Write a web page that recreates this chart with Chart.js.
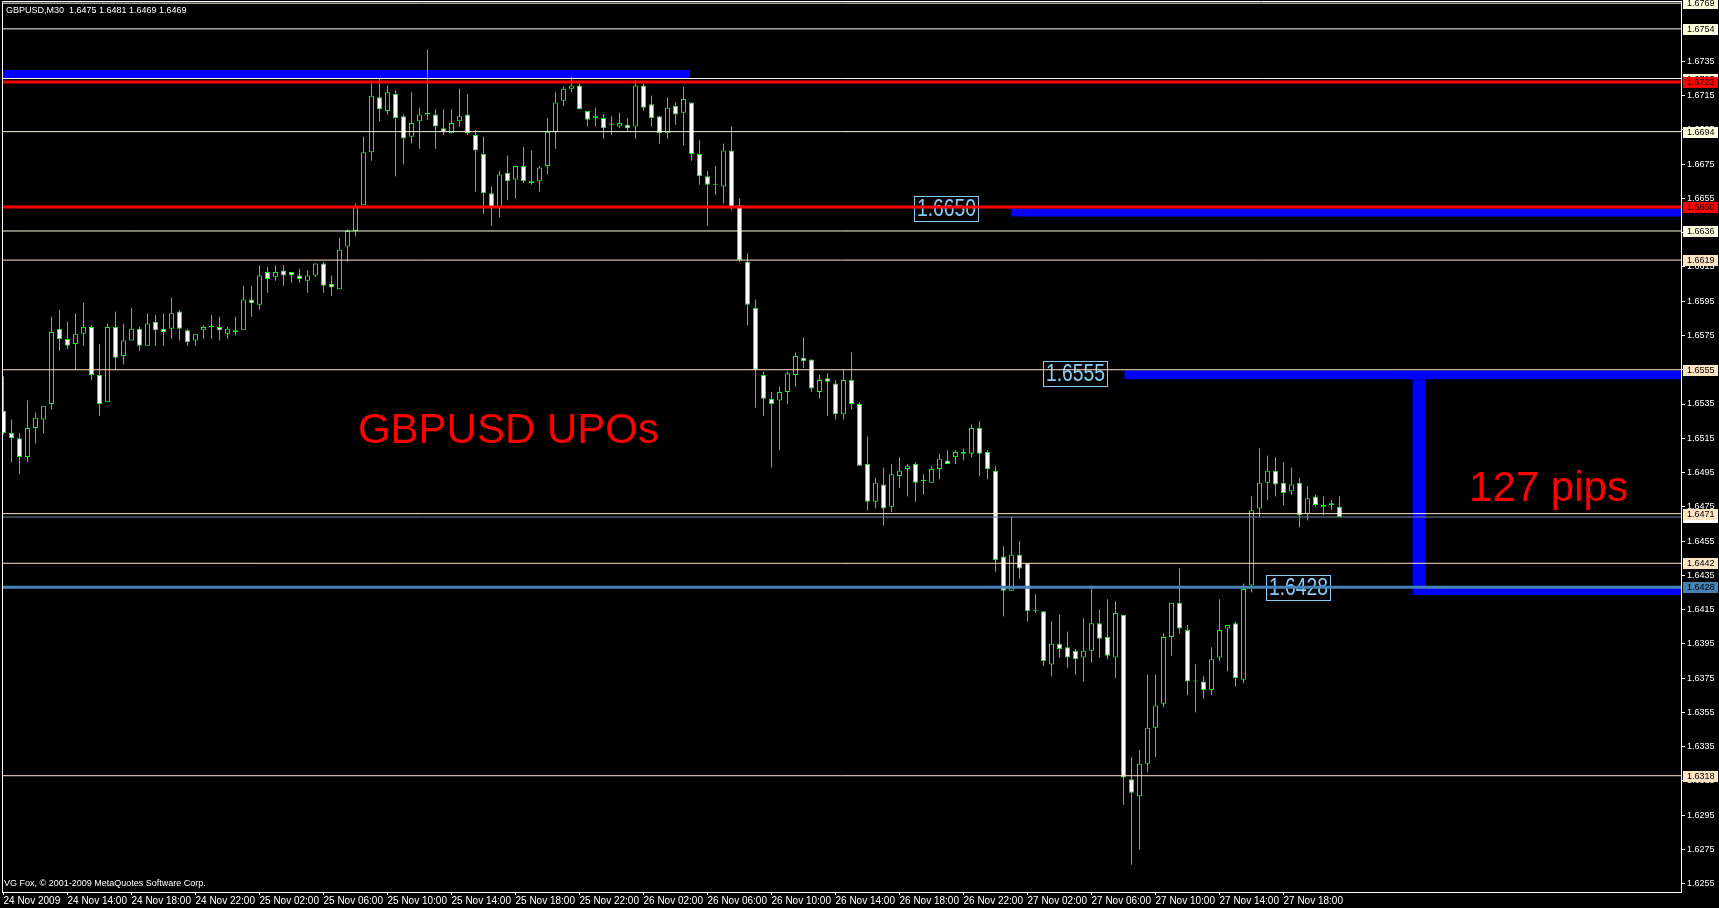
<!DOCTYPE html>
<html>
<head>
<meta charset="utf-8">
<title>GBPUSD,M30</title>
<script src="https://cdn.jsdelivr.net/npm/chart.js@4.4.1/dist/chart.umd.min.js"></script>
<style>
  html, body { margin: 0; padding: 0; background: #000; overflow: hidden; }
  #wrap { width: 1719px; height: 908px; }
</style>
</head>
<body>
<div id="wrap"><canvas id="chart" width="1719" height="908"></canvas></div>
<script>
// GBPUSD M30 bars, first bar = 24 Nov 10:00, one bar every half hour
const opens = [
  1.6531,1.6518,1.6515,1.6504,1.6521,1.6526,1.6535,1.6579,1.6573,1.6570,
  1.6576,1.6580,1.6552,1.6536,1.6580,1.6563,1.6572,1.6579,1.6569,1.6583,
  1.6579,1.6579,1.6589,1.6578,1.6572,1.6578,1.6580,1.6580,1.6576,1.6578,
  1.6578,1.6596,1.6593,1.6612,1.6609,1.6613,1.6612,1.6610,1.6607,1.6610,
  1.6617,1.6605,1.6602,1.6627,1.6636,1.6651,1.6682,1.6714,1.6706,1.6716,
  1.6703,1.6691,1.6700,1.6704,1.6704,1.6696,1.6693,1.6700,1.6704,1.6692,
  1.6681,1.6658,1.6650,1.6670,1.6666,1.6674,1.6665,1.6665,1.6674,1.6694,
  1.6712,1.6719,1.6721,1.6706,1.6703,1.6702,1.6698,1.6697,1.6698,1.6697,
  1.6721,1.6710,1.6703,1.6693,1.6709,1.6705,1.6711,1.6681,1.6668,1.6663,
  1.6662,1.6683,1.6651,1.6618,1.6591,1.6552,1.6538,1.6537,1.6542,1.6552,
  1.6562,1.6561,1.6542,1.6550,1.6547,1.6529,1.6549,1.6535,1.6500,1.6478,
  1.6488,1.6475,1.6493,1.6497,1.6500,1.6490,1.6489,1.6497,1.6502,1.6504,
  1.6507,1.6506,1.6521,1.6507,1.6496,1.6446,1.6426,1.6447,1.6442,1.6414,
  1.6414,1.6383,1.6395,1.6393,1.6391,1.6387,1.6391,1.6407,1.6399,1.6387,
  1.6412,1.6316,1.6306,1.6325,1.6346,1.6360,1.6399,1.6419,1.6403,1.6373,
  1.6373,1.6368,1.6387,1.6404,1.6407,1.6374,1.6429,1.6474,1.6489,1.6496,
  1.6489,1.6484,1.6489,1.6471,1.6481,1.6476,1.6477,1.6475
];
const highs = [
  1.6551,1.6526,1.6518,1.6537,1.6530,1.6534,1.6586,1.6590,1.6583,1.6588,
  1.6594,1.6581,1.6570,1.6582,1.6589,1.6582,1.6591,1.6580,1.6588,1.6587,
  1.6588,1.6597,1.6590,1.6579,1.6576,1.6581,1.6587,1.6586,1.6580,1.6586,
  1.6604,1.6604,1.6616,1.6615,1.6616,1.6616,1.6612,1.6614,1.6613,1.6617,
  1.6618,1.6610,1.6632,1.6637,1.6652,1.6691,1.6723,1.6725,1.6721,1.6718,
  1.6704,1.6717,1.6708,1.6742,1.6707,1.6707,1.6707,1.6719,1.6716,1.6695,
  1.6691,1.6662,1.6671,1.6680,1.6674,1.6685,1.6683,1.6674,1.6702,1.6717,
  1.6720,1.6726,1.6722,1.6706,1.6708,1.6704,1.6703,1.6705,1.6702,1.6724,
  1.6722,1.6715,1.6703,1.6714,1.6711,1.6720,1.6711,1.6689,1.6671,1.6674,
  1.6687,1.6697,1.6655,1.6623,1.6596,1.6554,1.6542,1.6545,1.6554,1.6565,
  1.6574,1.6561,1.6552,1.6553,1.6549,1.6555,1.6565,1.6536,1.6516,1.6492,
  1.6498,1.6500,1.6504,1.6500,1.6501,1.6494,1.6499,1.6506,1.6508,1.6508,
  1.6509,1.6523,1.6525,1.6508,1.6499,1.6452,1.6469,1.6455,1.6442,1.6424,
  1.6414,1.6408,1.6412,1.6402,1.6392,1.6410,1.6429,1.6415,1.6421,1.6420,
  1.6412,1.6329,1.6333,1.6377,1.6377,1.6401,1.6419,1.6439,1.6406,1.6383,
  1.6376,1.6393,1.6421,1.6406,1.6408,1.6430,1.6481,1.6509,1.6505,1.6504,
  1.6501,1.6498,1.6492,1.6487,1.6482,1.6481,1.6479,1.6481
];
const lows = [
  1.6517,1.6501,1.6494,1.6501,1.6512,1.6518,1.6532,1.6566,1.6567,1.6555,
  1.6569,1.6549,1.6528,1.6536,1.6555,1.6558,1.6572,1.6566,1.6569,1.6569,
  1.6569,1.6573,1.6572,1.6569,1.6569,1.6573,1.6573,1.6572,1.6573,1.6575,
  1.6578,1.6586,1.6590,1.6600,1.6607,1.6604,1.6606,1.6606,1.6600,1.6609,
  1.6600,1.6598,1.6602,1.6618,1.6633,1.6651,1.6677,1.6700,1.6704,1.6668,
  1.6675,1.6687,1.6684,1.6701,1.6684,1.6692,1.6693,1.6697,1.6692,1.6659,
  1.6646,1.6639,1.6644,1.6654,1.6655,1.6664,1.6663,1.6659,1.6669,1.6684,
  1.6709,1.6717,1.6707,1.6697,1.6697,1.6690,1.6692,1.6696,1.6694,1.6690,
  1.6706,1.6697,1.6687,1.6690,1.6698,1.6686,1.6677,1.6663,1.6639,1.6657,
  1.6652,1.6648,1.6618,1.6581,1.6533,1.6528,1.6498,1.6508,1.6535,1.6545,
  1.6556,1.6542,1.6538,1.6528,1.6526,1.6526,1.6532,1.6499,1.6473,1.6474,
  1.6464,1.6472,1.6486,1.6481,1.6478,1.6482,1.6489,1.6491,1.6500,1.6500,
  1.6502,1.6504,1.6493,1.6491,1.6437,1.6411,1.6426,1.6433,1.6408,1.6413,
  1.6382,1.6376,1.6387,1.6381,1.6377,1.6373,1.6384,1.6387,1.6386,1.6375,
  1.6301,1.6266,1.6275,1.6320,1.6329,1.6358,1.6388,1.6401,1.6365,1.6355,
  1.6363,1.6365,1.6385,1.6379,1.6370,1.6372,1.6425,1.6469,1.6479,1.6481,
  1.6476,1.6482,1.6463,1.6467,1.6475,1.6470,1.6473,1.6469
];
const closes = [
  1.6518,1.6515,1.6504,1.6521,1.6527,1.6534,1.6577,1.6573,1.6569,1.6576,
  1.6580,1.6552,1.6535,1.6580,1.6562,1.6572,1.6579,1.6569,1.6582,1.6578,
  1.6577,1.6588,1.6579,1.6571,1.6576,1.6580,1.6580,1.6578,1.6579,1.6577,
  1.6596,1.6594,1.6610,1.6608,1.6612,1.6610,1.6610,1.6608,1.6610,1.6617,
  1.6604,1.6603,1.6625,1.6636,1.6650,1.6682,1.6715,1.6707,1.6717,1.6702,
  1.6690,1.6699,1.6704,1.6705,1.6697,1.6694,1.6699,1.6703,1.6693,1.6683,
  1.6658,1.6650,1.6669,1.6665,1.6674,1.6665,1.6664,1.6673,1.6694,1.6711,
  1.6719,1.6721,1.6707,1.6701,1.6702,1.6696,1.6698,1.6699,1.6696,1.6721,
  1.6708,1.6702,1.6693,1.6708,1.6704,1.6713,1.6681,1.6668,1.6663,1.6663,
  1.6683,1.6650,1.6619,1.6593,1.6555,1.6538,1.6535,1.6542,1.6553,1.6563,
  1.6560,1.6544,1.6549,1.6548,1.6529,1.6549,1.6535,1.6499,1.6478,1.6489,
  1.6474,1.6494,1.6496,1.6499,1.6489,1.6490,1.6497,1.6503,1.6500,1.6507,
  1.6506,1.6521,1.6506,1.6497,1.6444,1.6426,1.6447,1.6439,1.6414,1.6414,
  1.6385,1.6395,1.6392,1.6387,1.6386,1.6391,1.6407,1.6398,1.6388,1.6413,
  1.6317,1.6308,1.6325,1.6346,1.6359,1.6399,1.6419,1.6404,1.6373,1.6373,
  1.6368,1.6386,1.6403,1.6406,1.6375,1.6427,1.6473,1.6489,1.6496,1.6488,
  1.6483,1.6488,1.6470,1.6480,1.6476,1.6475,1.6476,1.6469
];

// one time label every 8 bars (4 hours)
const timeLabels = [
  '24 Nov 2009', '24 Nov 14:00', '24 Nov 18:00', '24 Nov 22:00',
  '25 Nov 02:00', '25 Nov 06:00', '25 Nov 10:00', '25 Nov 14:00',
  '25 Nov 18:00', '25 Nov 22:00', '26 Nov 02:00', '26 Nov 06:00',
  '26 Nov 10:00', '26 Nov 14:00', '26 Nov 18:00', '26 Nov 22:00',
  '27 Nov 02:00', '27 Nov 06:00', '27 Nov 10:00', '27 Nov 14:00',
  '27 Nov 18:00'
];
const priceTicks = [
  1.6255, 1.6275, 1.6295, 1.6315, 1.6335, 1.6355, 1.6375, 1.6395, 1.6415,
  1.6435, 1.6455, 1.6475, 1.6495, 1.6515, 1.6535, 1.6555, 1.6575, 1.6595,
  1.6615, 1.6635, 1.6655, 1.6675, 1.6695, 1.6715, 1.6735
];

// horizontal levels
const paleLevels = [1.6769, 1.6754, 1.6725, 1.6694, 1.6636];
const peachLevels = [1.6619, 1.6555, 1.6471, 1.6442, 1.6318];
const redLevels = [1.6723, 1.6650];
const blueLevels = [1.6428];
const bidLevels = [1.6469];

// blue zones: bar range and price range
const zoneBars = [[-0.2, 85.8], [125.9, 210], [140.1, 210], [176.1, 210], [176.1, 177.7]];
const zonePrices = [[1.6725, 1.6730], [1.66445, 1.6649], [1.65495, 1.65545], [1.64235, 1.6428], [1.6428, 1.65495]];

// boxed price texts
const tagTexts = ['1.6650', '1.6555', '1.6428'];
const tagBars = [113.8, 129.9, 157.8];
const tagPrices = [1.66564, 1.65601, 1.64352];

// red captions
const captionTexts = ['GBPUSD UPOs', '127 pips'];
const captionBars = [44.3, 183.2];
const captionPrices = [1.65122, 1.64784];

const X_MIN = -0.1875, X_MAX = 209.6875;
const Y_MIN = 1.625012, Y_MAX = 1.677026;

const levelGroups = [
  { prices: bidLevels, line: '#778899', width: 1, tag: '#FFFFFF' },
  { prices: paleLevels, line: '#FFF8E0', width: 1, tag: '#FFFFE0' },
  { prices: peachLevels, line: '#FFE4C4', width: 1, tag: '#FFE4C4' },
  { prices: redLevels, line: '#FF0000', width: 3, tag: '#FF0000' },
  { prices: blueLevels, line: '#4682B4', width: 3, tag: '#4682B4' }
];

const idx = opens.map((_, i) => i);
const bodyData = idx.map(i => ({ x: i, y: [opens[i], closes[i]] }));
const wickData = idx.map(i => ({ x: i, y: [lows[i], highs[i]] }));
const bodyFill = idx.map(i => closes[i] < opens[i] ? '#FFFFFF' : '#000000');

const datasets = [];
levelGroups.forEach(g => {
  g.prices.forEach(p => {
    datasets.push({
      type: 'line',
      data: [{ x: X_MIN, y: p }, { x: X_MAX, y: p }],
      borderColor: g.line,
      borderWidth: g.width,
      pointRadius: 0,
      fill: false,
      clip: 0,
      order: 0
    });
  });
});
datasets.push({
  type: 'bar',
  data: bodyData,
  backgroundColor: bodyFill,
  borderColor: '#00FF00',
  borderWidth: 1,
  borderSkipped: false,
  grouped: false,
  barThickness: 5,
  minBarLength: 1,
  inflateAmount: 0,
  order: 1
});
datasets.push({
  type: 'bar',
  data: wickData,
  backgroundColor: '#00FF00',
  borderWidth: 0,
  grouped: false,
  barThickness: 1,
  inflateAmount: 0,
  order: 2
});
zoneBars.forEach((b, i) => {
  datasets.push({
    type: 'line',
    data: [{ x: b[0], y: zonePrices[i][1] }, { x: b[1], y: zonePrices[i][1] }],
    borderWidth: 0,
    pointRadius: 0,
    backgroundColor: '#0000FF',
    fill: { value: zonePrices[i][0] },
    clip: 0,
    order: 3
  });
});

const smallFont = '9px "Liberation Sans", Arial, sans-serif';

const mtOverlay = {
  id: 'mtOverlay',
  beforeDatasetsDraw(chart) {
    const { ctx, scales: { x, y } } = chart;
    ctx.save();
    ctx.font = '23px "Liberation Sans", Arial, sans-serif';
    ctx.textBaseline = 'middle';
    ctx.textAlign = 'left';
    ctx.lineWidth = 1;
    tagTexts.forEach((t, i) => {
      const px = Math.round(x.getPixelForValue(tagBars[i])) + 0.5;
      const py = Math.round(y.getPixelForValue(tagPrices[i])) + 0.5;
      ctx.strokeStyle = '#87CEFA';
      ctx.strokeRect(px, py, 64, 25);
      // squeeze the glyphs to the narrow terminal font width
      ctx.save();
      ctx.translate(px + 2.5, py + 13);
      ctx.scale(0.84, 1);
      ctx.fillStyle = '#87CEFA';
      ctx.fillText(t, 0, 0);
      ctx.restore();
    });
    ctx.restore();
  },
  afterDraw(chart) {
    const { ctx, chartArea: a, scales: { x, y } } = chart;
    ctx.save();
    // frame
    ctx.strokeStyle = '#FFFFFF';
    ctx.lineWidth = 1;
    ctx.beginPath();
    ctx.moveTo(a.left + 0.5, a.bottom);
    ctx.lineTo(a.left + 0.5, a.top + 0.5);
    ctx.lineTo(a.right, a.top + 0.5);
    ctx.stroke();

    // level prices on the right axis
    ctx.font = smallFont;
    ctx.textBaseline = 'middle';
    ctx.textAlign = 'left';
    levelGroups.forEach(g => {
      g.prices.forEach(p => {
        const py = Math.round(y.getPixelForValue(p));
        ctx.fillStyle = g.tag;
        ctx.fillRect(a.right + 2, py - 5, 35, 11);
        ctx.fillStyle = '#000000';
        ctx.fillText(p.toFixed(4), a.right + 6, py + 0.5);
      });
    });

    // red captions
    ctx.font = '42px "Liberation Sans", Arial, sans-serif';
    ctx.fillStyle = '#FF0000';
    ctx.textBaseline = 'alphabetic';
    captionTexts.forEach((t, i) => {
      ctx.fillText(t, x.getPixelForValue(captionBars[i]), y.getPixelForValue(captionPrices[i]));
    });

    // header and copyright
    ctx.font = smallFont;
    ctx.fillStyle = '#FFFFFF';
    ctx.textBaseline = 'middle';
    ctx.fillText('GBPUSD,M30  1.6475 1.6481 1.6469 1.6469', 6, 10.5);
    ctx.fillText('VG Fox, \u00A9 2001-2009 MetaQuotes Software Corp.', 4, 884);
    ctx.restore();
  }
};

new Chart(document.getElementById('chart'), {
  type: 'bar',
  data: { datasets: datasets },
  options: {
    responsive: false,
    animation: false,
    events: [],
    layout: { padding: { left: 2, top: 1, right: 0, bottom: 0 } },
    plugins: {
      legend: { display: false },
      tooltip: { enabled: false }
    },
    scales: {
      x: {
        type: 'linear',
        min: X_MIN,
        max: X_MAX,
        offset: false,
        afterBuildTicks: s => { s.ticks = timeLabels.map((_, i) => ({ value: i * 8 })); },
        afterFit: s => { s.height = 16; s.paddingLeft = 0; s.paddingRight = 0; },
        grid: { offset: false, drawOnChartArea: false, drawTicks: true, tickLength: 3, color: '#FFFFFF' },
        border: { display: true, color: '#FFFFFF', width: 1 },
        ticks: {
          autoSkip: false,
          maxRotation: 0,
          minRotation: 0,
          align: 'start',
          padding: 0,
          color: '#FFFFFF',
          font: { family: '"Liberation Sans Narrow", "Liberation Sans", sans-serif', size: 10 },
          callback: (v, i) => timeLabels[i]
        }
      },
      y: {
        type: 'linear',
        position: 'right',
        min: Y_MIN,
        max: Y_MAX,
        beginAtZero: false,
        afterBuildTicks: s => { s.ticks = priceTicks.map(v => ({ value: v })); },
        afterFit: s => { s.width = 38; s.paddingTop = 0; s.paddingBottom = 0; },
        grid: { drawOnChartArea: false, drawTicks: true, tickLength: 4, color: '#FFFFFF' },
        border: { display: true, color: '#FFFFFF', width: 1 },
        ticks: {
          padding: 2,
          color: '#FFFFFF',
          font: { family: '"Liberation Sans", Arial, sans-serif', size: 9 },
          callback: v => Number(v).toFixed(4)
        }
      }
    }
  },
  plugins: [mtOverlay]
});
</script>
</body>
</html>
